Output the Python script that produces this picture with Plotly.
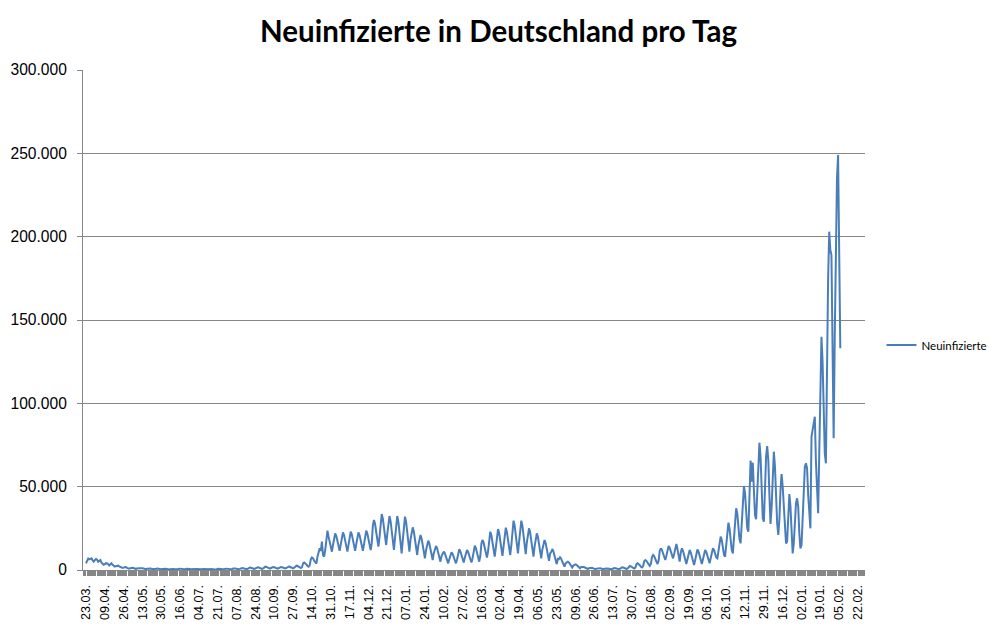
import plotly.graph_objects as go

# ---- data (daily new infections) ----
wave1_2020 = [4000, 5500, 6900, 6400, 6800, 7000, 5800, 5000, 5900, 6600, 6200, 5000, 5500, 6000,
              4400, 3600, 3100, 3500, 4100, 3900, 3600, 2700, 3300, 4000, 3100, 2400, 2000, 2300,
              2700, 2600, 2200, 1700, 1500, 1400, 1300, 1700, 1800, 1300, 900, 800, 1100, 1400,
              1300, 1200, 800, 600, 900, 1200, 1100]

summer_2020 = [1060, 1200, 1100, 890, 600, 500, 750,
               880, 1000, 910, 730, 490, 400, 610,
               800, 900, 830, 680, 480, 400, 580,
               700, 800, 730, 580, 380, 300, 480,
               620, 700, 640, 520, 360, 300, 440,
               800, 900, 830, 680, 480, 400, 580,
               700, 800, 730, 580, 380, 300, 480,
               530, 600, 550, 440, 300, 250, 370,
               520, 620, 560, 430, 310, 240, 380,
               620, 700, 640, 520, 360, 300, 440,
               710, 800, 730, 600, 420, 350, 510,
               800, 900, 830, 680, 480, 400, 580,
               890, 1000, 920, 750, 530, 450, 640,
               1060, 1200, 1100, 890, 610, 500, 750,
               1320, 1500, 1370, 1100, 740, 600, 920,
               1420, 1600, 1470, 1200, 840, 700, 1020,
               1760, 2000, 1820, 1460, 980, 800, 1220,
               1600, 1800, 1650, 1350, 950, 800, 1150,
               1620, 1800, 1670, 1400, 1040, 900, 1220,
               1880, 2100, 1940, 1600, 1170, 1000, 1390,
               2320, 2600, 2390, 1970, 1410, 1200, 1690]

wave2_2020 = [4000, 4500, 4130, 3380, 2380, 2000, 2880,
              6500, 7500, 7000, 5600, 4300, 3800, 8000,
              11000, 13000, 11500, 17000, 9000, 8000, 12000,
              19000, 23600, 20000, 16500, 12500, 11000, 15000,
              19900, 22000, 20400, 17300, 13100, 11500, 15200,
              20300, 22600, 20900, 17400, 12700, 11000, 15100,
              20700, 23000, 21300, 17800, 13200, 11500, 15500,
              20400, 22600, 20900, 17600, 13200, 11500, 15400,
              21300, 23600, 21900, 18400, 13700, 12000, 16100,
              26800, 30000, 27600, 22800, 16400, 14000, 19600,
              29900, 33600, 30800, 25200, 17800, 15000, 21500,
              28300, 32400, 29300, 23200, 15100, 12000, 19100,
              27900, 32400, 29000, 22300, 13400, 10000, 17800,
              27800, 32000, 28900, 22600, 14200, 11000, 18400,
              22300, 25600, 23100, 18100, 11500, 9000, 14800,
              18200, 21000, 18900, 14700, 9100, 7000, 11900,
              15300, 17600, 15900, 12400, 7700, 6000, 10100,
              12500, 14400, 13000, 10200, 6400, 5000, 8300,
              9600, 11000, 10000, 7900, 5100, 4000, 6500]

wave3_2021 = [9300, 10600, 9600, 7600, 5000, 4000, 6300,
              10800, 12400, 11200, 8800, 5700, 4500, 7300,
              10500, 12000, 10900, 8600, 5600, 4500, 7100,
              12700, 14600, 13200, 10300, 6400, 5000, 8400,
              15900, 18000, 16400, 13300, 9100, 7500, 11200,
              20000, 23000, 20800, 16300, 10300, 8000, 13300,
              21400, 24600, 22200, 17400, 10900, 8500, 14100,
              22100, 25400, 22900, 18000, 11500, 9000, 14700,
              25700, 29600, 26700, 20800, 12900, 10000, 16900,
              25600, 29600, 26600, 20600, 12500, 9500, 16500,
              21600, 25000, 22500, 17400, 10600, 8000, 14000,
              19000, 22000, 19800, 15300, 9300, 7000, 12300,
              15500, 18000, 16100, 12400, 7400, 5500, 9900,
              10800, 12600, 11200, 8500, 4900, 3500, 6700,
              6500, 7600, 6800, 5100, 2800, 2000, 4000,
              4300, 5000, 4500, 3400, 2000, 1500, 2700,
              2900, 3400, 3000, 2300, 1400, 1000, 1800]

summer_2021 = [1560, 1800, 1620, 1260, 780, 600, 1020,
               1220, 1400, 1270, 1000, 640, 500, 820,
               1060, 1200, 1100, 890, 600, 500, 750,
               880, 1000, 910, 730, 490, 400, 610,
               1060, 1200, 1100, 890, 600, 500, 750,
               1400, 1600, 1450, 1150, 750, 600, 950,
               2100, 2400, 2200, 1700, 1100, 900, 1400,
               3500, 4000, 3600, 2900, 1900, 1500, 2400,
               5300, 6000, 5500, 4400, 3000, 2500, 3700,
               7900, 9000, 8200, 6600, 4400, 3600, 5500,
               11600, 13000, 12000, 9900, 7100, 6000, 8500,
               12900, 14400, 13300, 11100, 8100, 7000, 9600,
               13500, 15600, 12500, 7500, 5000, 10500, 13000]

wave4_2021 = [11500, 8500, 5000, 3600, 6500, 10500, 12000,
              10500, 7500, 4200, 3000, 6000, 10500, 12400,
              11000, 8000, 4800, 3600, 6500, 10500, 12000,
              10800, 8200, 5200, 4000, 7000, 11000, 13000,
              12000, 9500, 7500, 7000, 11500, 17000, 20000,
              18000, 13000, 9000, 8000, 15000, 24000, 28400,
              25000, 18000, 12000, 10000, 20000, 31000, 37000,
              34000, 26000, 18500, 16000, 30000, 44000, 50400,
              46000, 34000, 25000, 23000, 45000, 65600, 53000,
              64400, 48000, 33000, 30400, 50000, 70000, 76400,
              68000, 45000, 31000, 29000, 50000, 68000, 74400,
              66000, 45000, 27600, 38000, 60000, 71000, 62000,
              44000, 28000, 21000, 30000, 48000, 57600, 50000,
              36000, 22000, 16000, 17000, 32000, 45600, 38000,
              24000, 10000, 16000, 30000, 40000]

omicron_2022 = [43000, 38000, 22000, 13000, 15000, 35000, 52000, 62000,
                64000, 61000, 45000, 30000, 25000, 80000, 85000, 90000,
                92000, 65000, 45000, 34000, 70000, 115000, 140000, 125000,
                95000, 70000, 64000, 130000, 175000, 203000, 192000, 189000,
                130000, 79000, 140000, 200000, 235000, 249000, 190000, 133000]

tick_labels = ["23.03.", "09.04.", "26.04.", "13.05.", "30.05.", "16.06.", "04.07.", "21.07.",
               "07.08.", "24.08.", "10.09.", "27.09.", "14.10.", "31.10.", "17.11.", "04.12.",
               "21.12.", "07.01.", "24.01.", "10.02.", "27.02.", "16.03.", "02.04.", "19.04.",
               "06.05.", "23.05.", "09.06.", "26.06.", "13.07.", "30.07.", "16.08.", "02.09.",
               "19.09.", "06.10.", "26.10.", "12.11.", "29.11.", "16.12.", "02.01.", "19.01.",
               "05.02.", "22.02."]
label_every = 17
series_name = "Neuinfizierte"

values = wave1_2020 + summer_2020 + wave2_2020 + wave3_2021 + summer_2021 + wave4_2021 + omicron_2022
days = list(range(len(values)))
tick_pos = [i * label_every for i in range(len(tick_labels))]

grey = "#868686"
fig = go.Figure()
fig.add_trace(go.Scatter(x=days, y=values, mode="lines", name=series_name,
                         line=dict(color="#4A7EBB", width=2)))

W, H = 989, 635
fig.update_layout(
    width=W, height=H,
    margin=dict(l=75, r=132, t=62, b=73, autoexpand=False),
    plot_bgcolor="white", paper_bgcolor="white",
    separators=",.",
    title=dict(text="Neuinfizierte in Deutschland pro Tag", x=(498.5 - 8) / W, xanchor="center",
               y=1 - 24 / H, yanchor="middle",
               font=dict(family="Lato", size=29.5, color="black", weight="bold")),
    showlegend=True,
    legend=dict(xref="container", x=(888 - 8 - 6.5) / W, y=0.45, xanchor="left", yanchor="middle",
                font=dict(family="Lato", size=11.5, color="black"),
                bgcolor="rgba(0,0,0,0)", itemwidth=30),
)
fig.update_yaxes(range=[0, 300000], dtick=50000, tick0=0, tickformat=",d", automargin=False,
                 showgrid=True, gridcolor=grey, gridwidth=1, zeroline=False,
                 showline=True, linecolor=grey, linewidth=1,
                 ticks="outside", ticklen=5, tickcolor=grey, ticklabelstandoff=7,
                 tickfont=dict(family="Liberation Sans", size=15.6, color="black"))
fig.update_xaxes(range=[-2.7, 703.3], tickmode="array", tickvals=tick_pos, ticktext=tick_labels,
                 tickangle=-90, showgrid=False, zeroline=False, automargin=False,
                 showline=True, linecolor=grey, linewidth=1,
                 ticks="outside", ticklen=5, tickcolor=grey, ticklabelstandoff=4,
                 minor=dict(tickmode="linear", tick0=0, dtick=1, ticks="outside",
                            ticklen=5, tickcolor=grey, tickwidth=1),
                 tickfont=dict(family="Liberation Sans", size=12.6, color="black"))

fig.write_html("out.html")
